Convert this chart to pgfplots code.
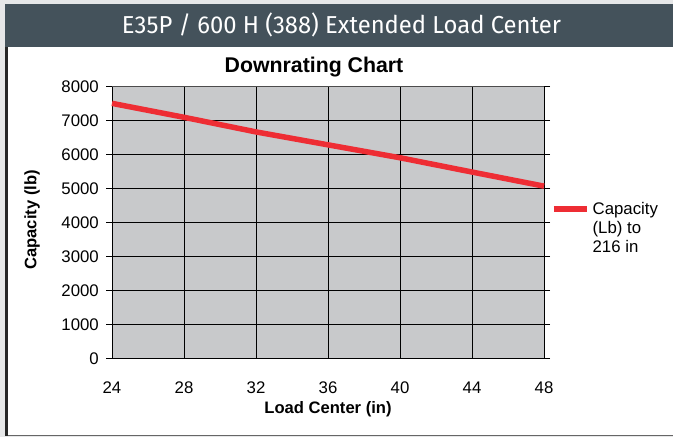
\documentclass[border=0pt]{standalone}
\usepackage{pgfplots}
\pgfplotsset{compat=1.18}
\usepackage{fontspec}
\usepackage{graphicx}
\setmainfont{Liberation Sans}
\newfontfamily\headfont{Fira Sans}
\definecolor{pagebg}{HTML}{E6E7E8}
\definecolor{headbg}{HTML}{44525B}
\definecolor{plotbg}{HTML}{C8C9CB}
\definecolor{capred}{HTML}{EE2D34}
\begin{document}
\begin{tikzpicture}[x=1bp,y=1bp]
\path[use as bounding box] (0,0) rectangle (673,437);
\fill[pagebg] (0,0) rectangle (673,437);
\fill[white] (6,1.5) rectangle (673,433);
\draw[gray!80!black, line width=1.5bp] (5,1.5) -- (673,1.5);
\fill[black!85] (5,1) rectangle (8.3,433);
\fill[headbg] (5,390) rectangle (673,433);
\node[anchor=base, text=white, inner sep=0pt] at (341.5,403)
  {\resizebox{439bp}{\height}{\headfont\fontsize{24.5bp}{28bp}\selectfont E35P / 600 H (388) Extended Load Center}};
\node[anchor=base, inner sep=0pt] at (314,364.3)
  {\fontsize{21.3bp}{25bp}\selectfont\bfseries Downrating Chart};
\begin{axis}[
  at={(112bp,78.3bp)}, anchor=south west,
  scale only axis, width=432bp, height=272bp,
  xmin=24, xmax=48, ymin=0, ymax=8000,
  xtick={24,28,32,36,40,44,48},
  ytick={0,1000,2000,3000,4000,5000,6000,7000,8000},
  scaled y ticks=false,
  /pgf/number format/assume math mode=true,
  /pgf/number format/1000 sep={},
  axis background/.style={fill=plotbg},
  grid=major,
  major grid style={black, line width=0.9bp},
  axis line style={black, line width=0.9bp},
  xtick style={draw=none},
  ytick style={black, line width=0.8bp},
  tick align=outside,
  major tick length=6bp,
  ticklabel style={font=\fontsize{16.8bp}{20bp}\selectfont},
  xticklabel style={anchor=center, inner sep=0pt, yshift=-23bp},
  yticklabel style={anchor=east, inner sep=0pt, xshift=-7bp},
  xlabel={Load Center (in)},
  ylabel={Capacity (lb)},
  label style={font=\fontsize{16.6bp}{20bp}\selectfont\bfseries},
  xlabel style={at={(axis description cs:0.5,-0.184)}, anchor=center, inner sep=0pt},
  ylabel style={at={(axis description cs:-0.185,0.51)}, anchor=center, inner sep=0pt},
  legend style={at={(axis description cs:1.016,0.48)}, anchor=west, draw=none, fill=none,
    inner sep=0pt, font=\fontsize{16.8bp}{19bp}\selectfont,
    nodes={align=left, inner sep=0pt, anchor=base west}},
  legend cell align=left,
  legend image code/.code={\draw[#1] (0bp,43.5bp) -- (33bp,43.5bp); \path (36bp,43.5bp);},
  clip=false,
]
\addplot[capred, line width=5.5bp] coordinates {
  (24,7510) (28,7100) (32,6670) (36,6290) (40,5910) (44,5490) (48,5075)
};
\addlegendentry{Capacity\\(Lb) to\\216 in}
\end{axis}
\draw[black!70, line width=1.5bp] (112,350.3) -- (544,350.3);
\end{tikzpicture}
\end{document}
